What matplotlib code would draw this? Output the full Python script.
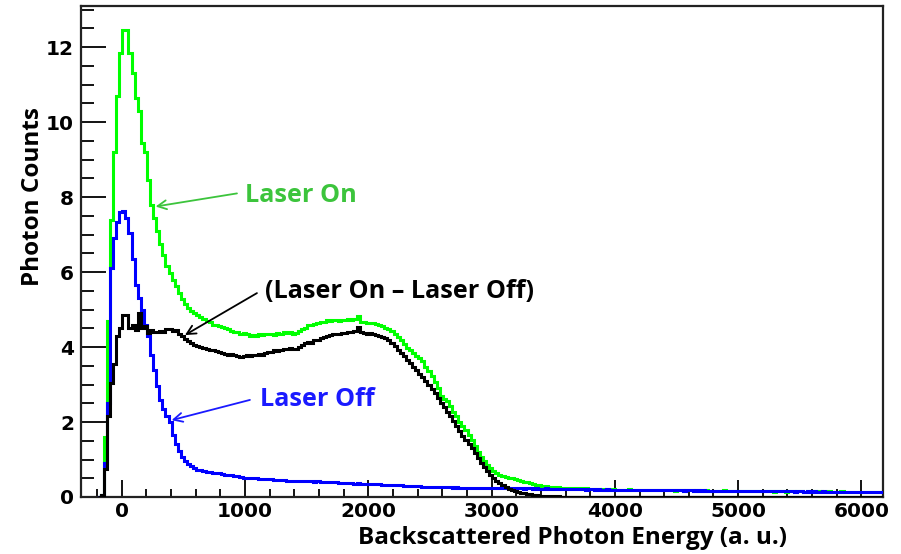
import numpy as np
import matplotlib
matplotlib.use("Agg")
import matplotlib.pyplot as plt
from matplotlib.ticker import MultipleLocator

# histogram binning: 256 bins of 25 a.u. starting at -195
bin_start = -195
bin_width = 25
n_bins = 256

# Laser On (green), one row = 8 bins = 200 a.u.
laser_on = [
    0.0, 0.05, 1.6, 4.7, 7.4, 9.2, 10.7, 11.85,
    12.45, 12.45, 11.85, 11.3, 10.65, 10.3, 9.45, 9.2,
    8.45, 7.8, 7.45, 7.1, 6.75, 6.45, 6.15, 5.98,
    5.8, 5.62, 5.45, 5.27, 5.15, 5.05, 4.97, 4.9,
    4.86, 4.8, 4.76, 4.7, 4.66, 4.6, 4.58, 4.55,
    4.54, 4.5, 4.47, 4.44, 4.41, 4.4, 4.36, 4.38,
    4.34, 4.3, 4.33, 4.29, 4.35, 4.32, 4.36, 4.34,
    4.36, 4.33, 4.38, 4.35, 4.4, 4.37, 4.39, 4.36,
    4.38, 4.42, 4.47, 4.52, 4.58, 4.6, 4.62, 4.64,
    4.66, 4.68, 4.71, 4.7, 4.73, 4.72, 4.7, 4.71,
    4.72, 4.74, 4.73, 4.75, 4.83, 4.68, 4.67, 4.65,
    4.65, 4.63, 4.62, 4.6, 4.57, 4.52, 4.48, 4.42,
    4.36, 4.28, 4.19, 4.08, 3.98, 3.92, 3.84, 3.76,
    3.7, 3.62, 3.48, 3.36, 3.22, 3.08, 2.9, 2.7,
    2.62, 2.55, 2.42, 2.28, 2.15, 2.0, 1.9, 1.78,
    1.66, 1.52, 1.36, 1.2, 1.06, 0.96, 0.86, 0.78,
    0.69, 0.63, 0.59, 0.56, 0.54, 0.52, 0.5, 0.48,
    0.45, 0.42, 0.41, 0.39, 0.37, 0.36, 0.33, 0.31,
    0.3, 0.29, 0.28, 0.27, 0.27, 0.26, 0.25, 0.25,
    0.25, 0.24, 0.24, 0.23, 0.23, 0.22, 0.23, 0.22,
    0.22, 0.21, 0.22, 0.21, 0.2, 0.21, 0.2, 0.21,
    0.2, 0.2, 0.19, 0.2, 0.21, 0.19, 0.2, 0.19,
    0.19, 0.2, 0.18, 0.19, 0.19, 0.18, 0.2, 0.18,
    0.18, 0.19, 0.18, 0.17, 0.19, 0.18, 0.17, 0.18,
    0.18, 0.17, 0.18, 0.16, 0.17, 0.18, 0.17, 0.16,
    0.17, 0.16, 0.17, 0.18, 0.16, 0.17, 0.15, 0.16,
    0.16, 0.17, 0.15, 0.16, 0.16, 0.15, 0.17, 0.15,
    0.16, 0.15, 0.16, 0.14, 0.15, 0.16, 0.15, 0.14,
    0.15, 0.16, 0.14, 0.15, 0.15, 0.14, 0.15, 0.14,
    0.15, 0.14, 0.15, 0.14, 0.13, 0.15, 0.14, 0.14,
    0.14, 0.15, 0.13, 0.14, 0.14, 0.13, 0.14, 0.13,
    0.14, 0.13, 0.14, 0.13, 0.14, 0.13, 0.13, 0.14,
]

# Laser Off (blue)
laser_off = [
    0.0, 0.05, 0.9, 2.5, 6.1, 6.9, 7.35, 7.6,
    7.62, 7.45, 7.05, 6.35, 5.65, 5.3, 5.0, 4.6,
    4.3, 3.8, 3.4, 2.95, 2.6, 2.35, 2.15, 2.0,
    1.65, 1.42, 1.22, 1.06, 0.96, 0.88, 0.82, 0.77,
    0.73, 0.71, 0.69, 0.67, 0.66, 0.65, 0.64, 0.63,
    0.61, 0.6, 0.59, 0.58, 0.57, 0.55, 0.54, 0.52,
    0.52, 0.51, 0.5, 0.5, 0.49, 0.49, 0.48, 0.47,
    0.47, 0.46, 0.46, 0.45, 0.45, 0.44, 0.44, 0.43,
    0.43, 0.43, 0.42, 0.43, 0.42, 0.42, 0.41, 0.42,
    0.41, 0.41, 0.4, 0.4, 0.39, 0.39, 0.38, 0.38,
    0.38, 0.37, 0.37, 0.36, 0.37, 0.36, 0.36, 0.35,
    0.35, 0.35, 0.34, 0.34, 0.33, 0.33, 0.32, 0.32,
    0.32, 0.31, 0.31, 0.3, 0.3, 0.3, 0.29, 0.29,
    0.29, 0.28, 0.28, 0.28, 0.27, 0.27, 0.27, 0.26,
    0.26, 0.26, 0.26, 0.25, 0.26, 0.25, 0.25, 0.25,
    0.25, 0.24, 0.25, 0.24, 0.24, 0.25, 0.24, 0.24,
    0.24, 0.23, 0.24, 0.23, 0.24, 0.23, 0.23, 0.24,
    0.23, 0.23, 0.22, 0.23, 0.23, 0.22, 0.23, 0.22,
    0.22, 0.23, 0.22, 0.22, 0.21, 0.22, 0.22, 0.21,
    0.22, 0.21, 0.21, 0.22, 0.21, 0.21, 0.2, 0.21,
    0.21, 0.2, 0.21, 0.2, 0.2, 0.21, 0.2, 0.2,
    0.2, 0.2, 0.19, 0.2, 0.2, 0.19, 0.2, 0.19,
    0.19, 0.2, 0.19, 0.19, 0.18, 0.19, 0.19, 0.18,
    0.19, 0.18, 0.18, 0.19, 0.18, 0.18, 0.17, 0.18,
    0.18, 0.17, 0.18, 0.17, 0.18, 0.17, 0.17, 0.17,
    0.17, 0.17, 0.16, 0.17, 0.17, 0.16, 0.17, 0.16,
    0.16, 0.17, 0.16, 0.16, 0.15, 0.16, 0.16, 0.15,
    0.16, 0.15, 0.16, 0.15, 0.15, 0.16, 0.15, 0.15,
    0.15, 0.15, 0.14, 0.15, 0.15, 0.14, 0.15, 0.14,
    0.15, 0.14, 0.14, 0.15, 0.14, 0.14, 0.13, 0.14,
    0.14, 0.14, 0.13, 0.14, 0.14, 0.13, 0.14, 0.13,
    0.13, 0.14, 0.13, 0.13, 0.14, 0.13, 0.13, 0.13,
]

# (Laser On - Laser Off) (black)
laser_diff = [
    0.0, 0.05, 0.75, 2.15, 3.05, 3.55, 4.3, 4.5,
    4.85, 4.85, 4.5, 4.6, 4.45, 4.9, 4.5, 4.55,
    4.38, 4.45, 4.41, 4.4, 4.43, 4.41, 4.47, 4.48,
    4.44, 4.45, 4.36, 4.3, 4.22, 4.15, 4.1, 4.06,
    4.03, 4.01, 3.98, 3.95, 3.92, 3.91, 3.89, 3.86,
    3.83, 3.82, 3.79, 3.81, 3.78, 3.75, 3.74, 3.77,
    3.79, 3.76, 3.79, 3.8, 3.81, 3.79, 3.84, 3.86,
    3.88, 3.92, 3.9, 3.93, 3.96, 3.94, 3.97, 3.95,
    3.96, 4.01, 4.05, 4.1, 4.14, 4.12, 4.19, 4.18,
    4.25, 4.28, 4.3, 4.32, 4.34, 4.36, 4.35, 4.37,
    4.38, 4.41, 4.4, 4.42, 4.54, 4.41, 4.38, 4.36,
    4.37, 4.35, 4.33, 4.3, 4.28, 4.24, 4.19, 4.12,
    4.03, 3.93, 3.84, 3.75, 3.66, 3.57, 3.48, 3.38,
    3.28, 3.2, 3.09, 3.0, 2.88, 2.78, 2.64, 2.5,
    2.4, 2.28, 2.16, 2.04, 1.9, 1.77, 1.64, 1.52,
    1.42, 1.3, 1.17, 1.04, 0.92, 0.8, 0.69, 0.6,
    0.52, 0.44, 0.37, 0.31, 0.26, 0.22, 0.19, 0.16,
    0.14, 0.12, 0.1, 0.08, 0.07, 0.06, 0.05, 0.04,
    0.03, 0.03, 0.02, 0.02, 0.01, 0.02, 0.01, 0.01,
    0.01, 0.0, 0.01, 0.0, 0.01, 0.0, 0.0, 0.01,
    0.01, 0.0, 0.0, 0.01, 0.0, 0.0, 0.01, 0.0,
    0.0, 0.01, 0.0, 0.0, 0.0, 0.01, 0.0, 0.0,
    0.01, 0.0, 0.0, 0.0, 0.01, 0.0, 0.0, 0.01,
    0.0, 0.0, 0.01, 0.0, 0.0, 0.0, 0.01, 0.0,
    0.0, 0.01, 0.0, 0.0, 0.01, 0.0, 0.0, 0.0,
    0.01, 0.0, 0.0, 0.01, 0.0, 0.0, 0.0, 0.01,
    0.0, 0.0, 0.01, 0.0, 0.0, 0.01, 0.0, 0.0,
    0.0, 0.01, 0.0, 0.0, 0.0, 0.01, 0.0, 0.0,
    0.01, 0.0, 0.0, 0.01, 0.0, 0.0, 0.01, 0.0,
    0.0, 0.0, 0.01, 0.0, 0.0, 0.01, 0.0, 0.0,
    0.0, 0.01, 0.0, 0.0, 0.01, 0.0, 0.0, 0.0,
    0.01, 0.0, 0.0, 0.0, 0.01, 0.0, 0.0, 0.01,
]

edges = bin_start + bin_width * np.arange(n_bins + 1)

label_font = "Open Sans"
tick_font = "DejaVu Sans"

fig = plt.figure(figsize=(9.01, 5.54), dpi=100)
ax = fig.add_axes([81/901, 1-497/554, 802/901, 491/554])

ax.stairs(laser_on, edges, color="#00ff00", lw=2.2, zorder=2, baseline=None)
ax.stairs(laser_off, edges, color="#0000ff", lw=2.2, zorder=3, baseline=None)
ax.stairs(laser_diff, edges, color="black", lw=2.2, zorder=4, baseline=None)

ax.set_xlim(-330, 6175)
ax.set_ylim(0, 13.1)

ax.xaxis.set_major_locator(MultipleLocator(1000))
ax.xaxis.set_minor_locator(MultipleLocator(200))
ax.yaxis.set_major_locator(MultipleLocator(2))
ax.yaxis.set_minor_locator(MultipleLocator(0.5))

ax.tick_params(axis="y", which="major", direction="in", length=18, width=1.3, pad=5)
ax.tick_params(axis="y", which="minor", direction="in", length=9.4, width=1.3)
ax.tick_params(axis="x", which="major", direction="in", length=12, width=1.3, pad=3.5)
ax.tick_params(axis="x", which="minor", direction="in", length=5.8, width=1.3)
for lab in ax.get_xticklabels() + ax.get_yticklabels():
    lab.set_fontfamily(tick_font)
    lab.set_fontweight("bold")
    lab.set_fontsize(14.5)

for s in ax.spines.values():
    s.set_linewidth(1.6)
    s.set_color("#222222")

ax.set_xlabel("Backscattered Photon Energy (a. u.)", family=label_font,
              fontweight="bold", fontsize=17.5)
ax.xaxis.set_label_coords((572 - 81) / 802, (497 - 538) / 491)
ax.xaxis.label.set_va("center")
ax.set_ylabel("Photon Counts", family=label_font, fontweight="bold", fontsize=17.5)
ax.yaxis.set_label_coords((33 - 81) / 802, (497 - 197) / 491)
ax.yaxis.label.set_va("center")

note_size = 18.2
green_txt = "#3cc43c"
ax.annotate("", xy=(275, 7.75), xytext=(935, 8.1),
            arrowprops=dict(arrowstyle="->", color=green_txt, lw=1.3,
                            mutation_scale=16, shrinkA=0, shrinkB=0), zorder=6)
ax.text(1000, 8.05, "Laser On", color=green_txt, family=label_font,
        fontweight="bold", fontsize=note_size, va="center", ha="left", zorder=6)

ax.annotate("", xy=(513, 4.32), xytext=(1097, 5.44),
            arrowprops=dict(arrowstyle="->", color="black", lw=1.3,
                            mutation_scale=16, shrinkA=0, shrinkB=0), zorder=6)
ax.text(1162, 5.47, "(Laser On \u2013 Laser Off)", color="black", family=label_font,
        fontweight="bold", fontsize=note_size, va="center", ha="left", zorder=6)

ax.annotate("", xy=(405, 2.05), xytext=(1040, 2.59),
            arrowprops=dict(arrowstyle="->", color="#1a1aff", lw=1.3,
                            mutation_scale=16, shrinkA=0, shrinkB=0), zorder=6)
ax.text(1122, 2.59, "Laser Off", color="#1a1aff", family=label_font,
        fontweight="bold", fontsize=note_size, va="center", ha="left", zorder=6)

fig.savefig("out.png", dpi=100)
